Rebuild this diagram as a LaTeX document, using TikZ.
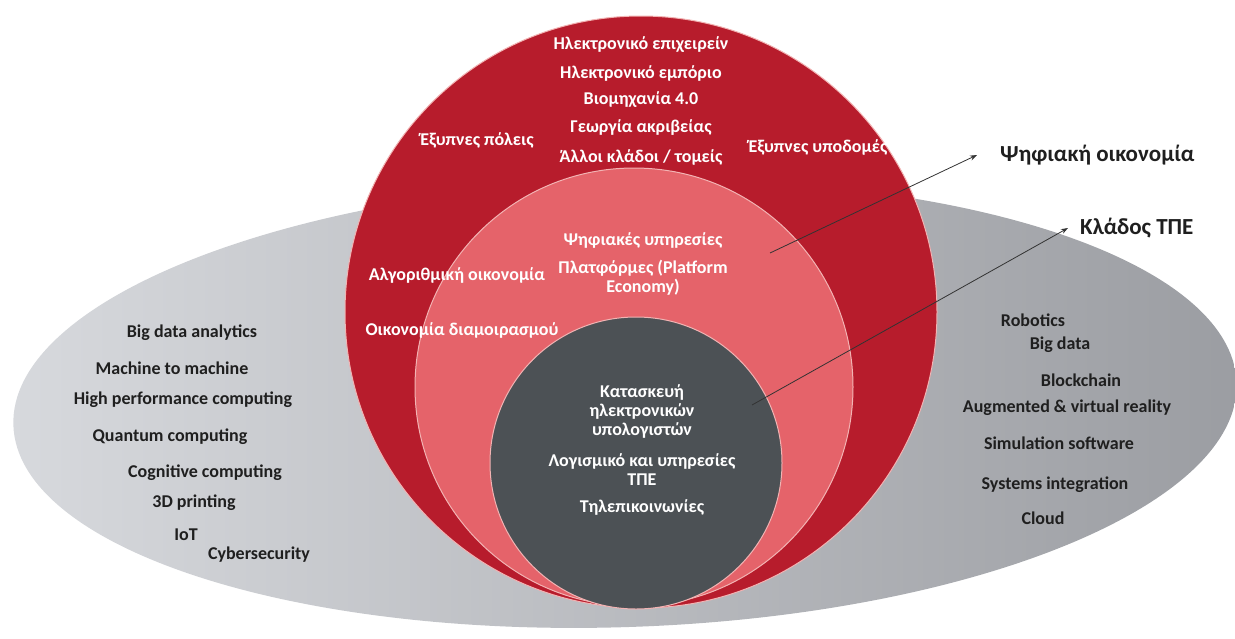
\documentclass[tikz,border=0pt]{standalone}
\usepackage{fontspec}
\setmainfont{Carlito}
\usepackage{xcolor}
\usepackage{tikz}
\usetikzlibrary{arrows.meta, positioning, shapes}

\definecolor{ecored}{HTML}{B71C2C}
\definecolor{ecopink}{HTML}{E5636A}
\definecolor{ictgrey}{HTML}{4C5155}
\definecolor{rimpink}{HTML}{F2B3B3}
\definecolor{ellleft}{HTML}{D7D9DD}
\definecolor{ellmid}{HTML}{CACCD0}
\definecolor{ellright}{HTML}{9B9DA2}

\begin{document}
\begin{tikzpicture}[x=1pt, y=-1pt,
	every node/.style={font=\bfseries\fontsize{18}{19}\selectfont, inner sep=0pt, align=center},
	ring/.style={circle, draw=rimpink, line width=1pt, inner sep=0pt},
	wtext/.style={text=white},
	btext/.style={text=black!88},
	bigtext/.style={text=black!88, anchor=west, font=\bfseries\fontsize{23}{25}\selectfont},
	pointer/.style={-{Stealth[length=7pt, width=5pt]}, line width=0.8pt, draw=black!80}]
	
	\useasboundingbox (0,0) rectangle (1235,638);
	
	%//grey ellipse behind the rings
	\shade[left color=ellleft, middle color=ellmid, right color=ellright, rotate around={2:(625,404)}]
	(625,404) ellipse [x radius=612pt, y radius=223pt];
	
	\node [ring, fill=ecored, minimum size=592pt] (eco) at (641,312) {};
	\node [ring, fill=ecopink, minimum size=438pt] (digi) at (634,387) {};
	\node [ring, fill=ictgrey, minimum size=292pt] (ict) at (636,463) {};
	
	%//outer ring
	\foreach \y/\val [count=\i] in {45/Ηλεκτρονικό επιχειρείν, 73/Ηλεκτρονικό εμπόριο, 100/Βιομηχανία 4.0, 128/Γεωργία ακριβείας, 157/{Άλλοι κλάδοι / τομείς}}
	\node [wtext] (sect\i) at (641,\y) {\val};
	
	\node [wtext] (cities) at (477,140) {Έξυπνες πόλεις};
	\node [wtext] (infra) at (818,147) {Έξυπνες υποδομές};
	\node [wtext] (algo) at (457,275) {Αλγοριθμική οικονομία};
	\node [wtext] (share) at (462,330) {Οικονομία διαμοιρασμού};
	
	%//middle ring
	\node [wtext] (serv) at (643,240) {Ψηφιακές υπηρεσίες};
	\node [wtext] (plat) at (643,278) {Πλατφόρμες (Platform\\Economy)};
	
	%//inner ring
	\node [wtext] (hw) at (642,411) {Κατασκευή\\ηλεκτρονικών\\υπολογιστών};
	\node [wtext] (soft) at (642,470) {Λογισμικό και υπηρεσίες\\ΤΠΕ};
	\node [wtext] (tele) at (642,507) {Τηλεπικοινωνίες};
	
	%//technologies on the ellipse
	\foreach \x/\y/\val [count=\i] in {192/333/Big data analytics, 172/368/Machine to machine, 183/400/High performance computing, 170/437/Quantum computing, 205/473/Cognitive computing, 194/503/3D printing, 186/535/IoT, 259/555/Cybersecurity}
	\node [btext] (left\i) at (\x,\y) {\val};
	
	\foreach \x/\y/\val [count=\i] in {1033/320/Robotics, 1060/345/Big data, 1081/380/Blockchain, 1067/408/Augmented \& virtual reality, 1059/443/Simulation software, 1055/485/Systems integration, 1043/518/Cloud}
	\node [btext] (right\i) at (\x,\y) {\val};
	
	%//labels and pointers
	\node [bigtext] (digilabel) at (1000,155) {Ψηφιακή οικονομία};
	\node [bigtext] (ictlabel) at (1080,228) {Κλάδος ΤΠΕ};
	
	\coordinate (digifrom) at (770,253);
	\coordinate (digito) at (977,155);
	\coordinate (ictfrom) at (752,405);
	\coordinate (ictto) at (1068,228);
	\draw [pointer] (digifrom) -- (digito);
	\draw [pointer] (ictfrom) -- (ictto);
	
\end{tikzpicture}
\end{document}
